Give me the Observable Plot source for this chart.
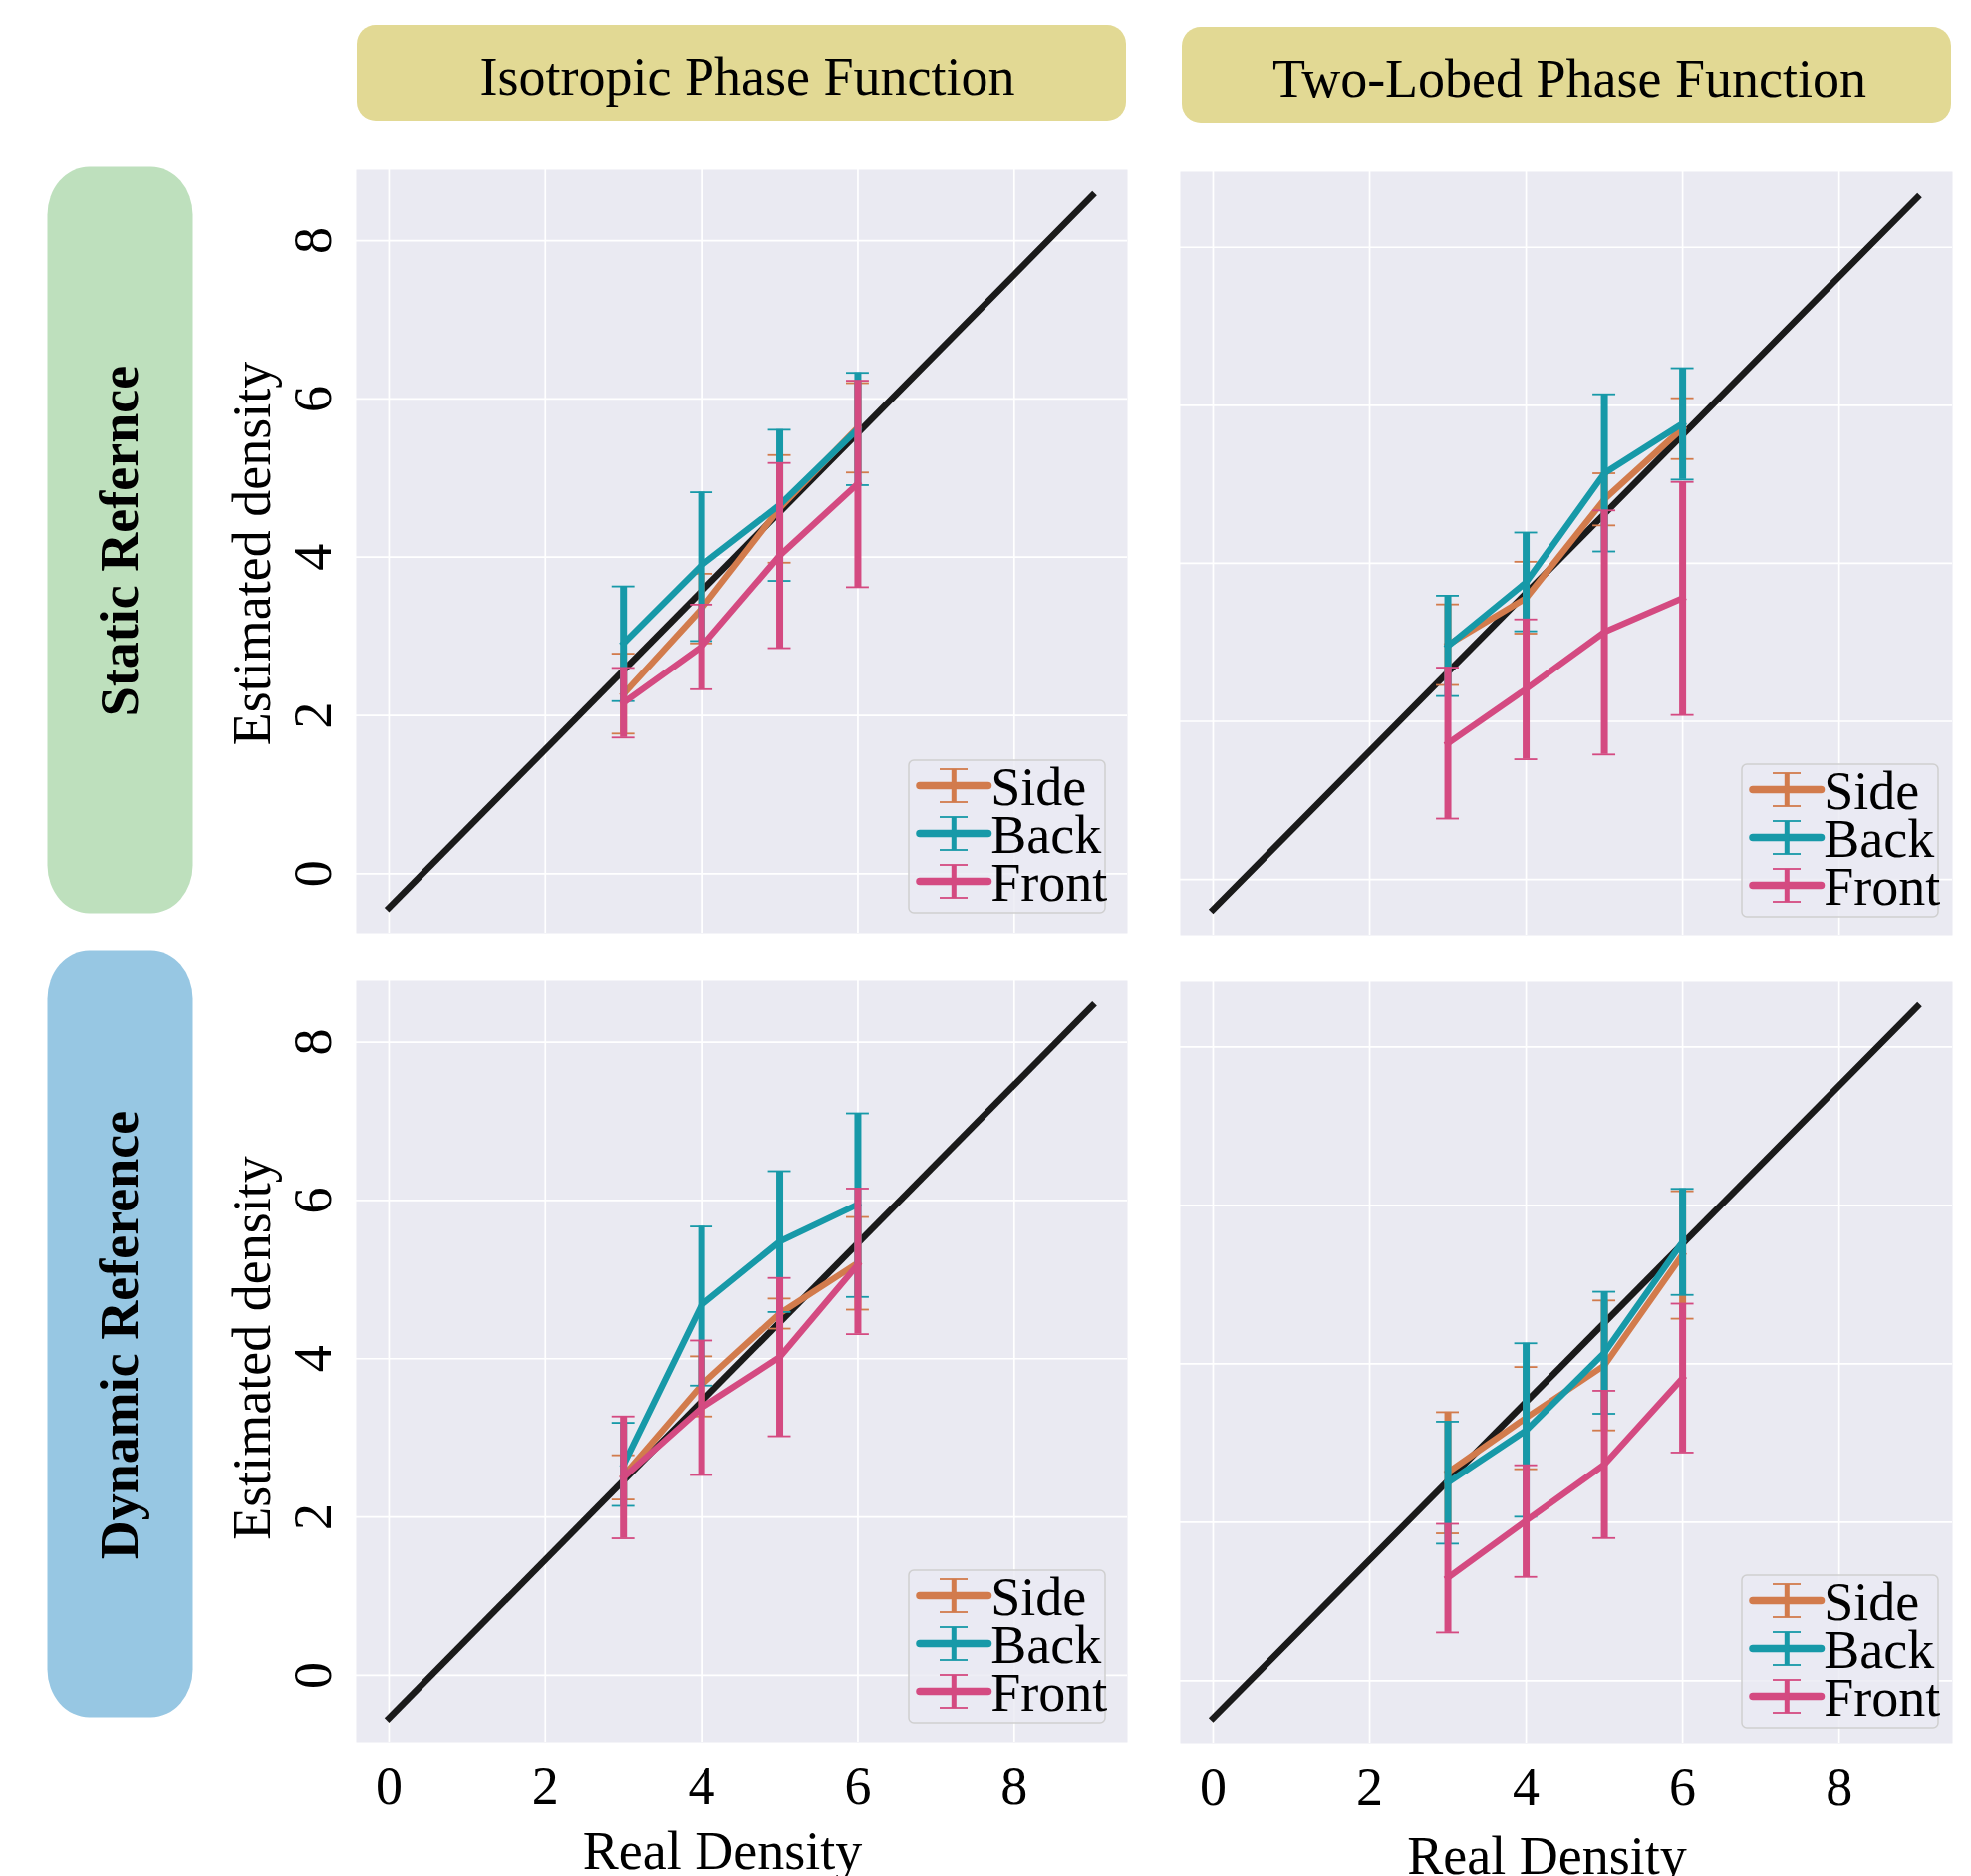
<!DOCTYPE html>
<html>
<head>
<meta charset="utf-8">
<script src="https://cdn.jsdelivr.net/npm/d3@7"></script>
<script src="https://cdn.jsdelivr.net/npm/@observablehq/plot@0.6"></script>
<style>
  html, body { margin: 0; padding: 0; background: #fff; }
  body { width: 1978px; height: 1883px; overflow: hidden; position: relative; }
  #root { position: absolute; left: 0; top: 0; width: 1978px; height: 1883px; }
  svg { overflow: visible; }
</style>
</head>
<body>
<div id="root"></div>
<script>
// ---------------- data ----------------
const realDensity = [3, 4, 5, 6];
const xTicks = [0, 2, 4, 6, 8];
const yTicks = [0, 2, 4, 6, 8];
const seriesNames = ["Side", "Back", "Front"];
const seriesColors = ["#d27b4c", "#1799a8", "#d44a81"];
const colTitles = ["Isotropic Phase Function", "Two-Lobed Phase Function"];
const rowTitles = ["Static Refernce", "Dynamic Reference"];
const xLabel = "Real Density";
const yLabel = "Estimated density";

// reference (black) line end points
const refX = [0, 9];
const isoStaticRef = [-0.43, 8.57];
const lobedStaticRef = [-0.38, 8.63];
const isoDynamicRef = [-0.54, 8.46];
const lobedDynamicRef = [-0.47, 8.51];

// rows: Side, Back, Front ; columns: real density 3,4,5,6
const isoStaticMean = [[2.27, 3.35, 4.62, 5.64], [2.91, 3.90, 4.66, 5.62], [2.16, 2.87, 4.02, 4.93]];
const isoStaticLo   = [[1.77, 2.91, 3.93, 5.07], [2.18, 2.94, 3.70, 4.91], [1.72, 2.33, 2.85, 3.62]];
const isoStaticHi   = [[2.78, 3.79, 5.29, 6.20], [3.63, 4.82, 5.61, 6.33], [2.60, 3.40, 5.19, 6.23]];

const lobedStaticMean = [[2.97, 3.56, 4.81, 5.71], [2.95, 3.76, 5.14, 5.77], [1.72, 2.41, 3.13, 3.56]];
const lobedStaticLo   = [[2.46, 3.11, 4.48, 5.32], [2.32, 3.14, 4.15, 5.06], [0.77, 1.52, 1.58, 2.08]];
const lobedStaticHi   = [[3.48, 4.02, 5.14, 6.09], [3.59, 4.39, 6.14, 6.47], [2.68, 3.29, 4.67, 5.03]];

const isoDynamicMean = [[2.52, 3.67, 4.57, 5.21], [2.66, 4.68, 5.48, 5.95], [2.50, 3.38, 4.02, 5.19]];
const isoDynamicLo   = [[2.22, 3.27, 4.38, 4.62], [2.14, 3.66, 4.59, 4.78], [1.73, 2.53, 3.02, 4.31]];
const isoDynamicHi   = [[2.78, 4.03, 4.76, 5.79], [3.19, 5.67, 6.37, 7.10], [3.27, 4.23, 5.02, 6.15]];

const lobedDynamicMean = [[2.63, 3.32, 3.98, 5.38], [2.50, 3.16, 4.14, 5.54], [1.30, 2.02, 2.73, 3.82]];
const lobedDynamicLo   = [[1.86, 2.67, 3.16, 4.57], [1.73, 2.07, 3.37, 4.87], [0.61, 1.31, 1.80, 2.88]];
const lobedDynamicHi   = [[3.39, 3.96, 4.80, 6.18], [3.27, 4.26, 4.91, 6.21], [1.98, 2.72, 3.66, 4.76]];

// ---------------- layout ----------------
const W = 1978, H = 1883;
const FONT = "'Liberation Serif', 'Times New Roman', Times, serif";
const FS = 54;
const panelBg = "#eaeaf2";
const capHalf = 0.146;
const xDomain = [-0.42, 9.45];

const panels = [
  {row: 0, col: 0, frame: [357, 170, 1131, 936], yDomain: [-0.751, 8.895], ref: isoStaticRef,
   mean: isoStaticMean, lo: isoStaticLo, hi: isoStaticHi, legend: [912, 762.5], yLabelDy: 2},
  {row: 0, col: 1, frame: [1184, 172, 1959, 938], yDomain: [-0.705, 8.955], ref: lobedStaticRef,
   mean: lobedStaticMean, lo: lobedStaticLo, hi: lobedStaticHi, legend: [1748, 767], yLabelDy: 0},
  {row: 1, col: 0, frame: [357, 984, 1131, 1749], yDomain: [-0.857, 8.775], ref: isoDynamicRef,
   mean: isoDynamicMean, lo: isoDynamicLo, hi: isoDynamicHi, legend: [912, 1575.5], yLabelDy: -14},
  {row: 1, col: 1, frame: [1184, 985, 1959, 1750], yDomain: [-0.80, 8.823], ref: lobedDynamicRef,
   mean: lobedDynamicMean, lo: lobedDynamicLo, hi: lobedDynamicHi, legend: [1748, 1580.5], yLabelDy: 0}
];

const root = document.getElementById("root");

// ---------- decorations (header boxes, row boxes) ----------
const deco = d3.create("svg")
  .attr("width", W).attr("height", H)
  .style("position", "absolute").style("left", "0px").style("top", "0px");

const headerBoxes = [[358, 25, 772, 96, 750, 95], [1186, 27, 772, 96, 1575, 96.5]];
colTitles.forEach((t, i) => {
  const [x, y, w, h, tx, ty] = headerBoxes[i];
  deco.append("rect").attr("x", x).attr("y", y).attr("width", w).attr("height", h)
    .attr("rx", 19).attr("ry", 19).attr("fill", "#e2d994");
  deco.append("text").attr("x", tx).attr("y", ty).attr("text-anchor", "middle")
    .attr("font-family", FONT).attr("font-size", FS).attr("fill", "#000").text(t);
});

const rowBoxes = [[47.5, 167.5, 146, 749, "#bee0bd", 543], [47.5, 954.5, 146, 769, "#97c7e3", 1340]];
rowTitles.forEach((t, i) => {
  const [x, y, w, h, c, cy] = rowBoxes[i];
  deco.append("rect").attr("x", x).attr("y", y).attr("width", w).attr("height", h)
    .attr("rx", 42).attr("ry", 48).attr("fill", c);
  deco.append("text").attr("transform", `translate(138,${cy}) rotate(-90)`)
    .attr("text-anchor", "middle").attr("font-family", FONT).attr("font-weight", "bold")
    .attr("font-size", FS).attr("fill", "#000").text(t);
});
root.appendChild(deco.node());

// ---------- panels ----------
panels.forEach((p) => {
  const [fx0, fy0, fx1, fy1] = p.frame;
  const mL = p.col === 0 ? 170 : 10;
  const mR = 12, mT = 10;
  const mB = p.row === 1 ? 150 : 10;
  const width = (fx1 - fx0) + mL + mR;
  const height = (fy1 - fy0) + mT + mB;

  const refRows = refX.map((x, i) => ({x, y: p.ref[i]}));

  const marks = [
    Plot.frame({fill: panelBg, stroke: "none"}),
    Plot.gridX(xTicks, {stroke: "#ffffff", strokeOpacity: 1, strokeWidth: 1.7}),
    Plot.gridY(yTicks, {stroke: "#ffffff", strokeOpacity: 1, strokeWidth: 1.7}),
    Plot.line(refRows, {x: "x", y: "y", stroke: "#1a1a1a", strokeWidth: 6.5, strokeLinecap: "square"})
  ];

  seriesNames.forEach((s, i) => {
    const rows = realDensity.map((x, j) => ({series: s, x, y: p.mean[i][j], lo: p.lo[i][j], hi: p.hi[i][j]}));
    const c = seriesColors[i];
    marks.push(
      Plot.line(rows, {x: "x", y: "y", stroke: c, strokeWidth: 6.3, strokeLinejoin: "round", strokeLinecap: "square"}),
      Plot.ruleX(rows, {x: "x", y1: "lo", y2: "hi", stroke: c, strokeWidth: 7}),
      Plot.ruleY(rows, {y: "lo", x1: (d) => d.x - capHalf, x2: (d) => d.x + capHalf, stroke: c, strokeWidth: 1.8}),
      Plot.ruleY(rows, {y: "hi", x1: (d) => d.x - capHalf, x2: (d) => d.x + capHalf, stroke: c, strokeWidth: 1.8})
    );
  });

  if (p.col === 0) {
    marks.push(
      Plot.axisY(yTicks, {anchor: "left", tickSize: 0, tickPadding: 26, tickRotate: -90,
        tickFormat: (d) => String(d), fontSize: FS, label: null}),
      Plot.text([yLabel], {text: (d) => d, frameAnchor: "left", rotate: -90, textAnchor: "middle",
        lineAnchor: "bottom", dx: -87, dy: p.yLabelDy, fontSize: FS, fill: "#000"})
    );
  }
  if (p.row === 1) {
    marks.push(
      Plot.axisX(xTicks, {anchor: "bottom", tickSize: 0, tickPadding: 23,
        tickFormat: (d) => String(d), fontSize: FS, label: null}),
      Plot.text([xLabel], {text: (d) => d, frameAnchor: "bottom", textAnchor: "middle",
        lineAnchor: "bottom", dx: -19.5, dy: p.col === 0 ? 126 : 130, fontSize: FS, fill: "#000"})
    );
  }

  const chart = Plot.plot({
    width, height,
    marginLeft: mL, marginRight: mR, marginTop: mT, marginBottom: mB,
    style: {background: "transparent", color: "#000", fontFamily: FONT, fontSize: FS + "px", overflow: "visible"},
    x: {domain: xDomain, axis: null},
    y: {domain: p.yDomain, axis: null},
    marks
  });
  chart.style.position = "absolute";
  chart.style.left = (fx0 - mL) + "px";
  chart.style.top = (fy0 - mT) + "px";
  chart.style.maxWidth = "none";
  root.appendChild(chart);
});

// ---------- legends ----------
panels.forEach((p) => {
  const [lx, ly] = p.legend;
  const lg = d3.create("svg").attr("width", 200).attr("height", 156)
    .style("position", "absolute").style("left", (lx - 1) + "px").style("top", (ly - 1) + "px")
    .style("overflow", "visible");
  lg.append("rect").attr("x", 1).attr("y", 1).attr("width", 197).attr("height", 153)
    .attr("rx", 5).attr("ry", 5).attr("fill", "rgba(234,234,242,0.8)")
    .attr("stroke", "#cfcfcf").attr("stroke-width", 1.5);
  seriesNames.forEach((s, i) => {
    const cy = 1 + 25.5 + 48 * i;
    const c = seriesColors[i];
    const g = lg.append("g");
    g.append("line").attr("x1", 12).attr("x2", 80.5).attr("y1", cy).attr("y2", cy)
      .attr("stroke", c).attr("stroke-width", 7.5).attr("stroke-linecap", "round");
    g.append("line").attr("x1", 46.3).attr("x2", 46.3).attr("y1", cy - 16.5).attr("y2", cy + 16.5)
      .attr("stroke", c).attr("stroke-width", 5);
    [cy - 16.5, cy + 16.5].forEach((yy) => {
      g.append("line").attr("x1", 32).attr("x2", 60).attr("y1", yy).attr("y2", yy)
        .attr("stroke", c).attr("stroke-width", 1.8);
    });
    g.append("text").attr("x", 83.3).attr("y", cy + 19).attr("font-family", FONT)
      .attr("font-size", FS).attr("fill", "#000").text(s);
  });
  root.appendChild(lg.node());
});
</script>
</body>
</html>
